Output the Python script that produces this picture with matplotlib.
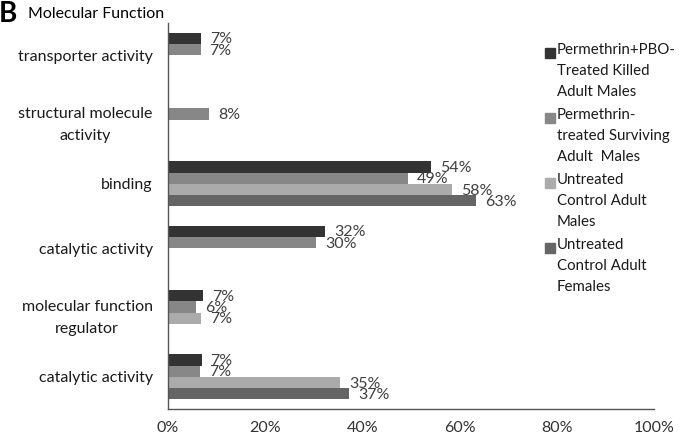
import numpy as np
import matplotlib
matplotlib.use("Agg")
import matplotlib.pyplot as plt
from matplotlib.patches import Rectangle

plt.rcParams['font.family'] = ['Lato', 'DejaVu Sans']

# Categories, top to bottom
categories = ["transporter activity", "structural molecule\nactivity", "binding",
              "catalytic activity", "molecular function\nregulator", "catalytic activity"]
series_names = ["Permethrin+PBO-\nTreated Killed\nAdult Males",
                "Permethrin-\ntreated Surviving\nAdult  Males",
                "Untreated\nControl Adult\nMales",
                "Untreated\nControl Adult\nFemales"]
killed = [6.8, np.nan, 54.2, 32.3, 7.2, 6.9]
surviving = [6.7, 8.4, 49.3, 30.4, 5.8, 6.6]
untreated_males = [np.nan, np.nan, 58.4, np.nan, 6.8, 35.4]
untreated_females = [np.nan, np.nan, 63.3, np.nan, np.nan, 37.2]
series = [killed, surviving, untreated_males, untreated_females]
colors = ["#333333", "#878787", "#ababab", "#656565"]
xticks = [0, 20, 40, 60, 80, 100]

fig = plt.figure(figsize=(6.79, 4.37), dpi=100)
ax = fig.add_axes([168/679, 1-409/437, (654-168)/679, (409-23)/437])

n = len(categories)
ypos = np.arange(n)[::-1]  # first category at top
h = 0.176
for i, (vals, c) in enumerate(zip(series, colors)):
    y = ypos + (1.5 - i) * h
    v = np.array(vals, dtype=float)
    mask = ~np.isnan(v)
    ax.barh(y[mask], v[mask], height=h, color=c, edgecolor='none')
    for yy, vv in zip(y[mask], v[mask]):
        ax.annotate(f"{vv:.0f}%", (vv, yy), xytext=(6.5, -0.8), textcoords='offset points',
                    ha='left', va='center', fontsize=11.5, color='#404040')

ax.set_xlim(0, 100)
ax.set_ylim(-0.5, n - 0.5)
ax.set_yticks(ypos)
ax.set_yticklabels(categories, multialignment='center', fontsize=11.5, color='#1a1a1a',
                   linespacing=1.7)
ax.set_xticks(xticks)
ax.set_xticklabels([f"{t}%" for t in xticks], fontsize=11.5, color='#333333')
ax.tick_params(axis='both', length=0)
ax.tick_params(axis='x', pad=9)
ax.tick_params(axis='y', pad=11)
for s in ['top', 'right']:
    ax.spines[s].set_visible(False)
for s in ['left', 'bottom']:
    ax.spines[s].set_color('#555555')
    ax.spines[s].set_linewidth(1.0)

fig.text(-1/679, 1-14/437, "B", fontsize=20, fontweight='bold', va='center', ha='left')
fig.text(28/679, 1-14/437, "Molecular Function", fontsize=11.5, va='center', ha='left')

# legend (manual)
leg_y0 = 53
pitch = 65
for i, (name, c) in enumerate(zip(series_names, colors)):
    yc = leg_y0 + i * pitch
    fig.patches.append(Rectangle((545/679, 1-(yc+4.5)/437), 9.5/679, 9.5/437,
                                 transform=fig.transFigure, color=c, figure=fig))
    fig.text(557/679, 1-(yc-10)/437, name, fontsize=10.8, va='top', ha='left',
             linespacing=1.62, color='#1a1a1a')

fig.savefig("out.png", dpi=100)
